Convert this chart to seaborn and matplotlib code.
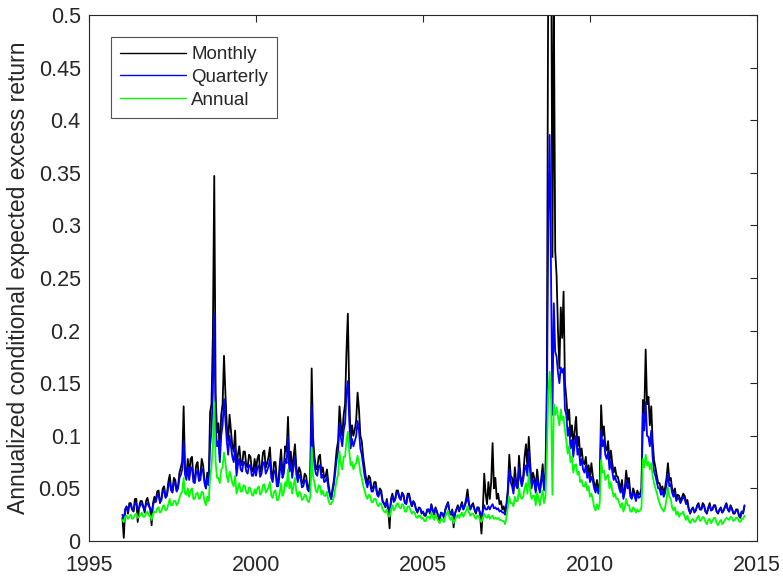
import numpy as np
import pandas as pd
import matplotlib
matplotlib.use("Agg")
import matplotlib.pyplot as plt
from matplotlib.ticker import FuncFormatter, MultipleLocator
import seaborn as sns

# ---- data: two readings per month (first half "a", second half "b"), Jan 1996 .. Aug 2014 ----
start_year = 1996
series_names = ["Monthly", "Quarterly", "Annual"]
series_colors = ["#000000", "#0000FF", "#00FF00"]

monthly_a = [
    0.022, 0.030, 0.026, 0.036, 0.028, 0.040, 0.032, 0.038, 0.027, 0.041, 0.030, 0.036,  # 1996
    0.038, 0.048, 0.040, 0.052, 0.044, 0.063, 0.048, 0.058, 0.052, 0.070, 0.128, 0.062,  # 1997
    0.062, 0.080, 0.058, 0.075, 0.062, 0.072, 0.050, 0.055, 0.130, 0.347, 0.103, 0.082,  # 1998
    0.130, 0.141, 0.095, 0.105, 0.085, 0.068, 0.090, 0.072, 0.085, 0.070, 0.080, 0.066,  # 1999
    0.068, 0.082, 0.070, 0.086, 0.074, 0.089, 0.060, 0.075, 0.055, 0.087, 0.070, 0.085,  # 2000
    0.073, 0.065, 0.092, 0.060, 0.066, 0.056, 0.062, 0.050, 0.164, 0.080, 0.068, 0.082,  # 2001
    0.070, 0.062, 0.055, 0.040, 0.058, 0.087, 0.128, 0.100, 0.130, 0.216, 0.094, 0.100,  # 2002
    0.115, 0.125, 0.095, 0.070, 0.055, 0.060, 0.050, 0.056, 0.044, 0.048, 0.036, 0.040,  # 2003
    0.012, 0.045, 0.040, 0.048, 0.040, 0.044, 0.036, 0.045, 0.033, 0.036, 0.027, 0.031,  # 2004
    0.028, 0.024, 0.030, 0.035, 0.025, 0.028, 0.019, 0.026, 0.030, 0.037, 0.025, 0.013,  # 2005
    0.030, 0.028, 0.037, 0.034, 0.049, 0.030, 0.036, 0.026, 0.032, 0.007, 0.064, 0.035,  # 2006
    0.040, 0.093, 0.060, 0.045, 0.038, 0.033, 0.036, 0.082, 0.060, 0.070, 0.050, 0.062,  # 2007
    0.062, 0.092, 0.099, 0.054, 0.060, 0.068, 0.048, 0.073, 0.065, 0.550, 0.620, 0.520,  # 2008
    0.252, 0.164, 0.193, 0.150, 0.115, 0.099, 0.090, 0.118, 0.099, 0.088, 0.073, 0.065,  # 2009
    0.060, 0.062, 0.050, 0.048, 0.129, 0.109, 0.086, 0.075, 0.074, 0.070, 0.061, 0.050,  # 2010
    0.042, 0.067, 0.060, 0.042, 0.046, 0.048, 0.045, 0.134, 0.182, 0.137, 0.128, 0.077,  # 2011
    0.062, 0.055, 0.052, 0.051, 0.074, 0.060, 0.045, 0.040, 0.043, 0.041, 0.043, 0.039,  # 2012
    0.026, 0.032, 0.029, 0.036, 0.030, 0.034, 0.026, 0.036, 0.030, 0.034, 0.026, 0.032,  # 2013
    0.029, 0.036, 0.028, 0.031, 0.026, 0.030, 0.022, 0.026,                              # 2014
]
monthly_b = [
    0.003, 0.033, 0.036, 0.030, 0.040, 0.018, 0.038, 0.033, 0.038, 0.035, 0.015, 0.042,  # 1996
    0.047, 0.036, 0.050, 0.042, 0.056, 0.050, 0.060, 0.048, 0.065, 0.076, 0.070, 0.078,  # 1997
    0.078, 0.060, 0.072, 0.060, 0.078, 0.058, 0.065, 0.122, 0.195, 0.140, 0.112, 0.120,  # 1998
    0.176, 0.110, 0.120, 0.090, 0.105, 0.082, 0.075, 0.085, 0.072, 0.082, 0.068, 0.078,  # 1999
    0.078, 0.066, 0.084, 0.070, 0.080, 0.066, 0.075, 0.056, 0.072, 0.065, 0.090, 0.118,  # 2000
    0.085, 0.080, 0.070, 0.070, 0.055, 0.064, 0.052, 0.060, 0.098, 0.070, 0.080, 0.065,  # 2001
    0.060, 0.068, 0.046, 0.050, 0.072, 0.095, 0.110, 0.120, 0.180, 0.140, 0.110, 0.106,  # 2002
    0.141, 0.100, 0.080, 0.060, 0.062, 0.050, 0.056, 0.046, 0.050, 0.038, 0.032, 0.030,  # 2003
    0.040, 0.038, 0.048, 0.042, 0.046, 0.036, 0.045, 0.038, 0.038, 0.030, 0.032, 0.026,  # 2004
    0.024, 0.030, 0.026, 0.029, 0.032, 0.022, 0.027, 0.022, 0.034, 0.028, 0.030, 0.026,  # 2005
    0.034, 0.033, 0.030, 0.040, 0.036, 0.034, 0.030, 0.032, 0.025, 0.030, 0.045, 0.056,  # 2006
    0.056, 0.050, 0.040, 0.035, 0.030, 0.026, 0.050, 0.062, 0.048, 0.055, 0.081, 0.055,  # 2007
    0.080, 0.070, 0.075, 0.065, 0.048, 0.055, 0.060, 0.050, 0.150, 0.700, 0.270, 0.276,  # 2008
    0.200, 0.222, 0.237, 0.136, 0.125, 0.110, 0.105, 0.090, 0.080, 0.075, 0.080, 0.072,  # 2009
    0.074, 0.055, 0.058, 0.055, 0.100, 0.090, 0.095, 0.086, 0.065, 0.062, 0.055, 0.058,  # 2010
    0.050, 0.055, 0.045, 0.050, 0.040, 0.044, 0.050, 0.120, 0.130, 0.110, 0.095, 0.070,  # 2011
    0.055, 0.048, 0.045, 0.060, 0.058, 0.050, 0.050, 0.044, 0.038, 0.045, 0.037, 0.030,  # 2012
    0.030, 0.027, 0.034, 0.030, 0.036, 0.028, 0.032, 0.029, 0.034, 0.028, 0.030, 0.027,  # 2013
    0.033, 0.030, 0.034, 0.026, 0.030, 0.024, 0.028, 0.033,                              # 2014
]

quarterly_a = [
    0.025, 0.030, 0.028, 0.034, 0.029, 0.036, 0.031, 0.035, 0.029, 0.036, 0.031, 0.034,  # 1996
    0.037, 0.044, 0.039, 0.048, 0.043, 0.056, 0.046, 0.054, 0.050, 0.063, 0.095, 0.058,  # 1997
    0.058, 0.070, 0.055, 0.067, 0.058, 0.066, 0.050, 0.053, 0.105, 0.216, 0.090, 0.075,  # 1998
    0.110, 0.115, 0.082, 0.090, 0.075, 0.062, 0.078, 0.066, 0.075, 0.064, 0.072, 0.062,  # 1999
    0.062, 0.072, 0.064, 0.075, 0.067, 0.078, 0.056, 0.067, 0.052, 0.076, 0.064, 0.074,  # 2000
    0.066, 0.060, 0.080, 0.056, 0.060, 0.052, 0.057, 0.047, 0.129, 0.072, 0.062, 0.072,  # 2001
    0.063, 0.057, 0.050, 0.040, 0.054, 0.078, 0.112, 0.090, 0.112, 0.152, 0.088, 0.090,  # 2002
    0.100, 0.105, 0.082, 0.062, 0.051, 0.055, 0.047, 0.052, 0.042, 0.045, 0.035, 0.038,  # 2003
    0.028, 0.043, 0.039, 0.046, 0.039, 0.043, 0.035, 0.043, 0.033, 0.035, 0.028, 0.031,  # 2004
    0.028, 0.025, 0.030, 0.034, 0.026, 0.028, 0.022, 0.026, 0.029, 0.036, 0.026, 0.022,  # 2005
    0.030, 0.029, 0.035, 0.033, 0.042, 0.030, 0.034, 0.027, 0.031, 0.024, 0.034, 0.030,  # 2006
    0.030, 0.035, 0.032, 0.031, 0.029, 0.027, 0.033, 0.068, 0.052, 0.060, 0.050, 0.058,  # 2007
    0.058, 0.072, 0.085, 0.050, 0.055, 0.060, 0.046, 0.065, 0.058, 0.300, 0.250, 0.226,  # 2008
    0.175, 0.150, 0.160, 0.125, 0.100, 0.088, 0.080, 0.100, 0.088, 0.078, 0.065, 0.060,  # 2009
    0.056, 0.057, 0.046, 0.045, 0.105, 0.096, 0.078, 0.068, 0.066, 0.062, 0.056, 0.046,  # 2010
    0.040, 0.058, 0.054, 0.040, 0.043, 0.045, 0.042, 0.121, 0.132, 0.099, 0.105, 0.066,  # 2011
    0.056, 0.050, 0.047, 0.046, 0.064, 0.054, 0.042, 0.038, 0.040, 0.039, 0.040, 0.036,  # 2012
    0.027, 0.031, 0.029, 0.034, 0.030, 0.033, 0.027, 0.034, 0.030, 0.033, 0.027, 0.031,  # 2013
    0.029, 0.035, 0.028, 0.030, 0.027, 0.029, 0.023, 0.027,                              # 2014
]
quarterly_b = [
    0.020, 0.032, 0.034, 0.030, 0.036, 0.030, 0.035, 0.032, 0.035, 0.033, 0.028, 0.038,  # 1996
    0.043, 0.037, 0.047, 0.041, 0.052, 0.048, 0.056, 0.047, 0.060, 0.068, 0.063, 0.070,  # 1997
    0.069, 0.056, 0.065, 0.057, 0.069, 0.055, 0.060, 0.090, 0.141, 0.110, 0.095, 0.100,  # 1998
    0.135, 0.095, 0.100, 0.080, 0.090, 0.072, 0.068, 0.075, 0.066, 0.072, 0.062, 0.070,  # 1999
    0.070, 0.061, 0.074, 0.064, 0.071, 0.060, 0.067, 0.052, 0.064, 0.060, 0.078, 0.099,  # 2000
    0.075, 0.071, 0.063, 0.063, 0.051, 0.058, 0.049, 0.055, 0.085, 0.064, 0.071, 0.060,  # 2001
    0.056, 0.062, 0.044, 0.047, 0.066, 0.085, 0.098, 0.105, 0.140, 0.115, 0.097, 0.095,  # 2002
    0.114, 0.088, 0.072, 0.056, 0.057, 0.047, 0.052, 0.044, 0.047, 0.037, 0.033, 0.030,  # 2003
    0.038, 0.037, 0.046, 0.041, 0.045, 0.036, 0.043, 0.037, 0.037, 0.030, 0.031, 0.027,  # 2004
    0.025, 0.029, 0.027, 0.029, 0.031, 0.024, 0.027, 0.023, 0.033, 0.028, 0.029, 0.026,  # 2005
    0.032, 0.032, 0.030, 0.037, 0.035, 0.033, 0.030, 0.031, 0.027, 0.029, 0.030, 0.033,  # 2006
    0.033, 0.031, 0.030, 0.028, 0.027, 0.025, 0.045, 0.056, 0.045, 0.052, 0.070, 0.052,  # 2007
    0.068, 0.062, 0.066, 0.058, 0.046, 0.052, 0.056, 0.048, 0.120, 0.386, 0.120, 0.180,  # 2008
    0.160, 0.165, 0.164, 0.120, 0.108, 0.096, 0.092, 0.082, 0.072, 0.068, 0.072, 0.065,  # 2009
    0.061, 0.050, 0.052, 0.050, 0.090, 0.082, 0.085, 0.076, 0.058, 0.056, 0.050, 0.052,  # 2010
    0.046, 0.050, 0.042, 0.046, 0.038, 0.041, 0.046, 0.105, 0.100, 0.090, 0.080, 0.062,  # 2011
    0.050, 0.044, 0.042, 0.054, 0.052, 0.046, 0.046, 0.041, 0.036, 0.042, 0.035, 0.030,  # 2012
    0.030, 0.028, 0.033, 0.030, 0.034, 0.028, 0.031, 0.029, 0.033, 0.028, 0.029, 0.027,  # 2013
    0.032, 0.030, 0.033, 0.027, 0.029, 0.025, 0.028, 0.034,                              # 2014
]

annual_a = [
    0.020, 0.023, 0.021, 0.025, 0.022, 0.026, 0.023, 0.027, 0.023, 0.028, 0.024, 0.026,  # 1996
    0.027, 0.032, 0.028, 0.034, 0.030, 0.040, 0.034, 0.038, 0.036, 0.045, 0.060, 0.044,  # 1997
    0.042, 0.050, 0.040, 0.046, 0.041, 0.046, 0.034, 0.038, 0.070, 0.132, 0.060, 0.055,  # 1998
    0.070, 0.075, 0.056, 0.062, 0.052, 0.045, 0.055, 0.047, 0.052, 0.045, 0.050, 0.043,  # 1999
    0.045, 0.052, 0.046, 0.054, 0.048, 0.056, 0.041, 0.048, 0.039, 0.055, 0.046, 0.052,  # 2000
    0.050, 0.045, 0.060, 0.042, 0.045, 0.040, 0.043, 0.037, 0.089, 0.055, 0.046, 0.052,  # 2001
    0.048, 0.043, 0.039, 0.035, 0.042, 0.058, 0.085, 0.068, 0.080, 0.104, 0.072, 0.068,  # 2002
    0.074, 0.075, 0.060, 0.048, 0.040, 0.043, 0.037, 0.040, 0.033, 0.035, 0.028, 0.030,  # 2003
    0.023, 0.034, 0.031, 0.036, 0.031, 0.034, 0.028, 0.033, 0.026, 0.027, 0.022, 0.024,  # 2004
    0.022, 0.019, 0.023, 0.027, 0.020, 0.022, 0.017, 0.020, 0.023, 0.029, 0.020, 0.017,  # 2005
    0.023, 0.022, 0.027, 0.026, 0.033, 0.024, 0.026, 0.021, 0.024, 0.018, 0.026, 0.022,  # 2006
    0.021, 0.024, 0.022, 0.022, 0.020, 0.019, 0.023, 0.042, 0.036, 0.042, 0.038, 0.042,  # 2007
    0.042, 0.055, 0.064, 0.040, 0.043, 0.046, 0.034, 0.048, 0.042, 0.140, 0.135, 0.130,  # 2008
    0.127, 0.110, 0.115, 0.105, 0.083, 0.075, 0.065, 0.073, 0.066, 0.058, 0.052, 0.048,  # 2009
    0.042, 0.040, 0.029, 0.030, 0.077, 0.067, 0.061, 0.050, 0.048, 0.045, 0.040, 0.032,  # 2010
    0.028, 0.040, 0.034, 0.028, 0.030, 0.030, 0.029, 0.078, 0.082, 0.075, 0.074, 0.055,  # 2011
    0.046, 0.036, 0.030, 0.032, 0.051, 0.040, 0.029, 0.025, 0.023, 0.026, 0.023, 0.024,  # 2012
    0.017, 0.021, 0.019, 0.024, 0.020, 0.022, 0.016, 0.021, 0.019, 0.022, 0.015, 0.020,  # 2013
    0.018, 0.022, 0.020, 0.022, 0.020, 0.022, 0.018, 0.021,                              # 2014
]
annual_b = [
    0.018, 0.024, 0.023, 0.021, 0.025, 0.022, 0.025, 0.023, 0.026, 0.024, 0.020, 0.028,  # 1996
    0.031, 0.027, 0.033, 0.029, 0.035, 0.034, 0.038, 0.034, 0.041, 0.047, 0.045, 0.050,  # 1997
    0.048, 0.040, 0.045, 0.040, 0.047, 0.038, 0.042, 0.060, 0.090, 0.075, 0.060, 0.068,  # 1998
    0.084, 0.062, 0.066, 0.055, 0.062, 0.050, 0.047, 0.053, 0.046, 0.051, 0.044, 0.049,  # 1999
    0.050, 0.044, 0.053, 0.046, 0.051, 0.043, 0.047, 0.039, 0.045, 0.043, 0.056, 0.068,  # 2000
    0.056, 0.053, 0.047, 0.047, 0.039, 0.044, 0.038, 0.042, 0.062, 0.048, 0.053, 0.044,  # 2001
    0.043, 0.047, 0.035, 0.038, 0.050, 0.063, 0.073, 0.080, 0.095, 0.085, 0.075, 0.072,  # 2002
    0.081, 0.065, 0.053, 0.043, 0.044, 0.037, 0.040, 0.035, 0.036, 0.030, 0.027, 0.024,  # 2003
    0.030, 0.029, 0.035, 0.032, 0.035, 0.028, 0.033, 0.029, 0.028, 0.023, 0.024, 0.021,  # 2004
    0.019, 0.023, 0.021, 0.023, 0.025, 0.019, 0.021, 0.018, 0.026, 0.022, 0.023, 0.020,  # 2005
    0.025, 0.025, 0.023, 0.029, 0.027, 0.026, 0.023, 0.024, 0.020, 0.022, 0.023, 0.025,  # 2006
    0.023, 0.021, 0.021, 0.020, 0.019, 0.016, 0.032, 0.036, 0.033, 0.038, 0.050, 0.040,  # 2007
    0.050, 0.045, 0.048, 0.043, 0.034, 0.040, 0.042, 0.036, 0.080, 0.161, 0.044, 0.120,  # 2008
    0.118, 0.125, 0.118, 0.095, 0.090, 0.080, 0.072, 0.063, 0.056, 0.052, 0.056, 0.052,  # 2009
    0.045, 0.032, 0.035, 0.036, 0.065, 0.058, 0.063, 0.056, 0.042, 0.040, 0.036, 0.036,  # 2010
    0.032, 0.034, 0.028, 0.032, 0.027, 0.028, 0.032, 0.070, 0.072, 0.068, 0.062, 0.050,  # 2011
    0.040, 0.032, 0.028, 0.040, 0.042, 0.032, 0.032, 0.028, 0.026, 0.028, 0.020, 0.019,  # 2012
    0.020, 0.018, 0.022, 0.019, 0.023, 0.018, 0.020, 0.017, 0.022, 0.017, 0.018, 0.016,  # 2013
    0.020, 0.021, 0.023, 0.019, 0.022, 0.019, 0.021, 0.024,                              # 2014
]

x_ticks = [1995, 2000, 2005, 2010, 2015]
y_label = "Annualized conditional expected excess return"

# ---- build long table: readings placed at half-month steps ----
frames = []
for name, a, b in zip(series_names,
                      [monthly_a, quarterly_a, annual_a],
                      [monthly_b, quarterly_b, annual_b]):
    vals = np.column_stack([a, b]).ravel()
    t = start_year + np.arange(len(vals)) / 24.0
    frames.append(pd.DataFrame({"t": t, "value": vals, "horizon": name}))
df = pd.concat(frames, ignore_index=True)

sns.set_style("white")
plt.rcParams["font.family"] = ["Liberation Sans", "DejaVu Sans"]

fig = plt.figure(figsize=(7.83, 5.77), dpi=100)
ax = fig.add_axes([89 / 783, 1 - 541 / 577, (757 - 89) / 783, (541 - 15) / 577])

sns.lineplot(data=df, x="t", y="value", hue="horizon", hue_order=series_names,
             palette=series_colors, linewidth=1.3, ax=ax, estimator=None,
             sort=False)

ax.set_xlim(1995, 2015)
ax.set_ylim(0, 0.5)
ax.set_xticks(x_ticks)
ax.yaxis.set_major_locator(MultipleLocator(0.05))
ax.yaxis.set_major_formatter(FuncFormatter(lambda v, p: "%g" % round(v, 4)))
ax.xaxis.set_major_formatter(FuncFormatter(lambda v, p: "%d" % v))
ax.tick_params(direction="in", length=5, width=0.8, top=True, right=True,
               labelsize=15.5, labelcolor="#262626", color="#262626")
ax.tick_params(axis="x", pad=10)
ax.tick_params(axis="y", pad=6)
for s in ax.spines.values():
    s.set_linewidth(0.8)
    s.set_color("#262626")
ax.set_xlabel("")
ax.set_ylabel(y_label, fontsize=16.5, color="#262626", labelpad=6)

leg = ax.legend(loc="upper left", fontsize=13.5, frameon=True, fancybox=False,
                edgecolor="#262626", handlelength=3.5, handletextpad=0.3,
                labelspacing=0.3, borderaxespad=1.15, borderpad=0.5)
leg.get_frame().set_linewidth(0.8)
for line in leg.get_lines():
    line.set_linewidth(1.0)

fig.savefig("out.png", dpi=100)
